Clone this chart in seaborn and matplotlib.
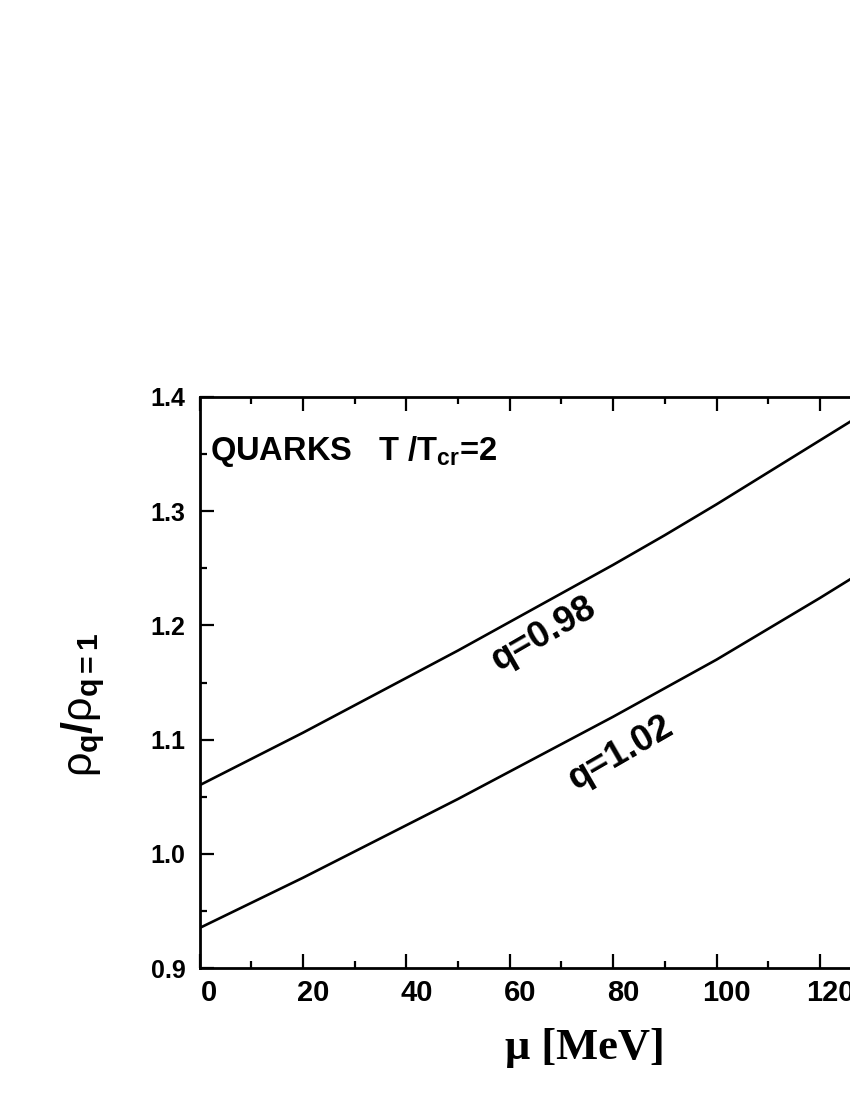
import numpy as np
import pandas as pd
import matplotlib
matplotlib.use('Agg')
import matplotlib.pyplot as plt
import matplotlib.transforms as mtransforms
import seaborn as sns
from matplotlib.ticker import MultipleLocator, FormatStrFormatter

# values (mu in MeV, ratio rho_q / rho_{q=1})
mu = [0, 10, 20, 30, 40, 50, 60, 70, 80, 90, 100, 110, 120, 130]
ratio_q098 = [1.060, 1.083, 1.106, 1.130, 1.154, 1.178, 1.203, 1.228,
              1.253, 1.279, 1.306, 1.334, 1.362, 1.390]
ratio_q102 = [0.935, 0.957, 0.979, 1.002, 1.025, 1.048, 1.072, 1.096,
              1.120, 1.145, 1.170, 1.197, 1.224, 1.252]

df = pd.concat([
    pd.DataFrame({'mu': mu, 'ratio': ratio_q098, 'q': 'q=0.98'}),
    pd.DataFrame({'mu': mu, 'ratio': ratio_q102, 'q': 'q=1.02'}),
])

sns.set_style('ticks')
plt.rcParams['font.family'] = ['Liberation Sans', 'DejaVu Sans']
plt.rcParams['mathtext.fontset'] = 'custom'
plt.rcParams['mathtext.rm'] = 'Liberation Sans'
plt.rcParams['mathtext.it'] = 'Liberation Sans'
plt.rcParams['mathtext.bf'] = 'Liberation Sans:bold'
for key in ['text.color', 'axes.labelcolor', 'xtick.color', 'ytick.color', 'axes.edgecolor']:
    plt.rcParams[key] = 'black'

fig = plt.figure(figsize=(8.5, 11), dpi=100)
# axes run past the right edge of the page, as in the cropped original
ax = fig.add_axes([199.5 / 850, 1 - 968 / 1100, 140 * 5.17 / 850, (968 - 397) / 1100])

sns.lineplot(data=df, x='mu', y='ratio', hue='q', palette=['black', 'black'],
             linewidth=1.9, legend=False, ax=ax)

ax.set_xlim(0, 140)
ax.set_ylim(0.9, 1.4)
ax.xaxis.set_major_locator(MultipleLocator(20))
ax.xaxis.set_minor_locator(MultipleLocator(10))
ax.yaxis.set_major_locator(MultipleLocator(0.1))
ax.yaxis.set_minor_locator(MultipleLocator(0.05))
ax.yaxis.set_major_formatter(FormatStrFormatter('%.1f'))

for s in ax.spines.values():
    s.set_linewidth(2.0)
ax.tick_params(which='major', direction='in', length=10, width=1.6,
               top=True, right=True, pad=9)
ax.tick_params(which='minor', direction='in', length=5, width=1.6,
               top=True, right=True)
ax.tick_params(axis='x', labelsize=21, pad=8)
ax.tick_params(axis='y', labelsize=18, pad=10)

# x tick labels sit a little right of their ticks in the original
shift = mtransforms.ScaledTranslation(0.1, 0, fig.dpi_scale_trans)
for lbl in ax.get_xticklabels():
    lbl.set_fontweight('bold')
    lbl.set_transform(lbl.get_transform() + shift)
for lbl in ax.get_yticklabels():
    lbl.set_fontweight('bold')

ax.set_xlabel('μ [MeV]', family='Liberation Serif', fontweight='bold', fontsize=32)
ax.xaxis.set_label_coords((585 - 199.5) / 723.8, -0.105)
ax.set_ylabel(r'$\rho_{\mathbf{q}}\mathbf{/}\rho_{\mathbf{q=1}}$', fontsize=31)
ax.yaxis.set_label_coords(-0.128, (968 - 705) / 571)

ax.text(0.015, 0.905, r'QUARKS   T /T$_{\mathbf{cr}}$=2', transform=ax.transAxes,
        fontsize=23.5, fontweight='bold', va='center', ha='left')
ax.text(66.6, 1.192, 'q=0.98', fontsize=26.5, fontweight='bold', rotation=30,
        ha='center', va='center')
ax.text(81.5, 1.088, 'q=1.02', fontsize=26.5, fontweight='bold', rotation=30,
        ha='center', va='center')

fig.savefig('out.png', dpi=100)
